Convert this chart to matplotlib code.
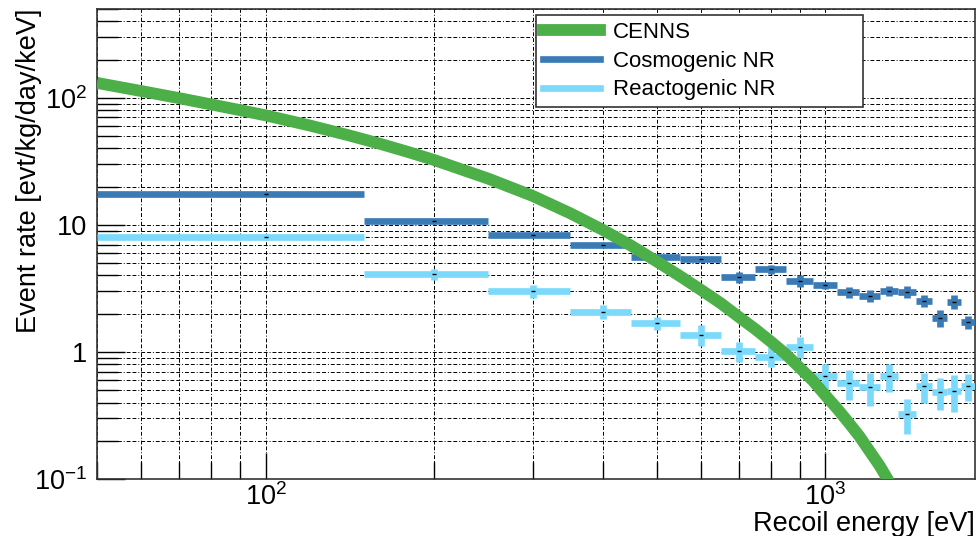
import matplotlib.pyplot as plt
from matplotlib.lines import Line2D
from matplotlib.ticker import FixedLocator, FixedFormatter, NullFormatter

plt.rcParams['font.family'] = ['Liberation Sans', 'DejaVu Sans']
plt.rcParams['mathtext.fontset'] = 'custom'
plt.rcParams['mathtext.rm'] = 'Liberation Sans'
plt.rcParams['mathtext.it'] = 'Liberation Sans:italic'
plt.rcParams['mathtext.bf'] = 'Liberation Sans:bold'

# CENNS expected spectrum [eV, evt/kg/day/keV]
cenns_e = [50, 60, 70, 80, 90, 100, 120, 140, 160, 180, 200, 250, 300, 350,
           400, 450, 500, 550, 600, 650, 700, 750, 800, 850, 900, 950,
           1000, 1050, 1100, 1150, 1200, 1250, 1300, 1350]
cenns_rate = [131, 113, 99.5, 88.7, 80, 72.8, 60.5, 51, 43.5, 37.4, 32.4,
              23.1, 16.9, 12.35, 9.15, 6.85, 5.15, 3.95, 3.07, 2.42, 1.89,
              1.507, 1.2, 0.959, 0.75, 0.593, 0.455, 0.357, 0.278, 0.217,
              0.165, 0.127, 0.095, 0.07]

# binned backgrounds: bin edges and contents
bin_lo = [50] + list(range(150, 1800, 100))
bin_hi = list(range(150, 1900, 100))
bin_center = [100] + list(range(200, 1900, 100))

cosmo = [17.5, 10.7, 8.3, 6.9, 5.57, 5.37, 3.88, 4.48, 3.62, 3.35,
         2.95, 2.76, 3.04, 2.98, 2.52, 1.86, 2.49, 1.71]
cosmo_err = [0.2, 0.2, 0.2, 0.25, 0.25, 0.3, 0.37, 0.37, 0.4, 0.22,
             0.3, 0.31, 0.29, 0.31, 0.28, 0.28, 0.31, 0.2]

react = [8.1, 4.1, 3.0, 2.07, 1.69, 1.37, 1.02, 0.92, 1.10, 0.647,
         0.567, 0.527, 0.647, 0.325, 0.54, 0.487, 0.496, 0.54]
react_err = [0.3, 0.42, 0.35, 0.26, 0.2, 0.25, 0.18, 0.165, 0.2, 0.16,
             0.15, 0.15, 0.16, 0.1, 0.14, 0.14, 0.16, 0.13]

c_green = '#4caf48'
c_dark = '#3a7ab5'
c_light = '#7bdafb'

fig = plt.figure(figsize=(9.8, 5.36), dpi=100)
ax = fig.add_axes([97/980, 57/536, 878/980, 470/536])
ax.set_xscale('log')
ax.set_yscale('log')
ax.set_xlim(50, 1850)
ax.set_ylim(0.1, 500)

xerr = [[c - lo for c, lo in zip(bin_center, bin_lo)],
        [hi - c for c, hi in zip(bin_center, bin_hi)]]

for vals, errs, col in [(cosmo, cosmo_err, c_dark), (react, react_err, c_light)]:
    ax.errorbar(bin_center, vals, xerr=xerr, yerr=errs, fmt='none',
                ecolor=col, elinewidth=4.8, capsize=0, zorder=3)
    ax.plot(bin_center, vals, ls='none', marker='_', ms=3, mew=1,
            color='black', zorder=4)

ax.plot(cenns_e, cenns_rate, color=c_green, lw=8.5, solid_capstyle='butt',
        solid_joinstyle='round', zorder=5)

# axes, ticks and grid
ax.xaxis.set_major_locator(FixedLocator([100, 1000]))
ax.xaxis.set_major_formatter(FixedFormatter(['$10^{2}$', '$10^{3}$']))
ax.xaxis.set_minor_locator(FixedLocator([50, 60, 70, 80, 90, 200, 300, 400,
                                         500, 600, 700, 800, 900]))
ax.xaxis.set_minor_formatter(NullFormatter())
ax.yaxis.set_major_locator(FixedLocator([0.1, 1, 10, 100]))
ax.yaxis.set_major_formatter(FixedFormatter(['$10^{-1}$', '1', '10', '$10^{2}$']))
ax.yaxis.set_minor_locator(FixedLocator(
    [m * d for d in (0.1, 1, 10, 100) for m in range(2, 10) if m * d <= 500]))
ax.yaxis.set_minor_formatter(NullFormatter())

ax.tick_params(which='both', direction='in', color='black', width=1.0,
               labelsize=19.5)
ax.tick_params(axis='x', which='major', length=19, pad=3)
ax.tick_params(axis='x', which='minor', length=12)
ax.tick_params(axis='y', which='major', length=20, pad=7)
ax.tick_params(axis='y', which='minor', length=15)
for s in ax.spines.values():
    s.set_linewidth(1.2)
    s.set_color('#333333')

ax.set_axisbelow(True)
ax.grid(True, which='both', color='black', linewidth=0.7,
        linestyle=(0, (4, 2, 4, 2, 1, 2)))

ax.set_xlabel('Recoil energy [eV]', fontsize=19.5, loc='right')
ax.xaxis.set_label_coords(1.0, -0.068)
ax.set_ylabel('Event rate [evt/kg/day/keV]', fontsize=19.5, loc='top')
ax.yaxis.set_label_coords(-0.063, 1.0)

handles = [Line2D([], [], color=c_green, lw=8.5),
           Line2D([], [], color=c_dark, lw=4.8),
           Line2D([], [], color=c_light, lw=4.8)]
leg = ax.legend(handles, ['CENNS', 'Cosmogenic NR', 'Reactogenic NR'],
                loc='upper left', bbox_to_anchor=(0.5, 0.8, 0.372, 0.187),
                mode='expand', fontsize=16, frameon=True, fancybox=False,
                handlelength=2.6, handletextpad=0.55, labelspacing=0.35,
                borderpad=0.3, borderaxespad=0)
leg.get_frame().set_edgecolor('#333333')
leg.get_frame().set_linewidth(1.2)
leg.get_frame().set_alpha(1)

fig.savefig('out.png', dpi=100)
